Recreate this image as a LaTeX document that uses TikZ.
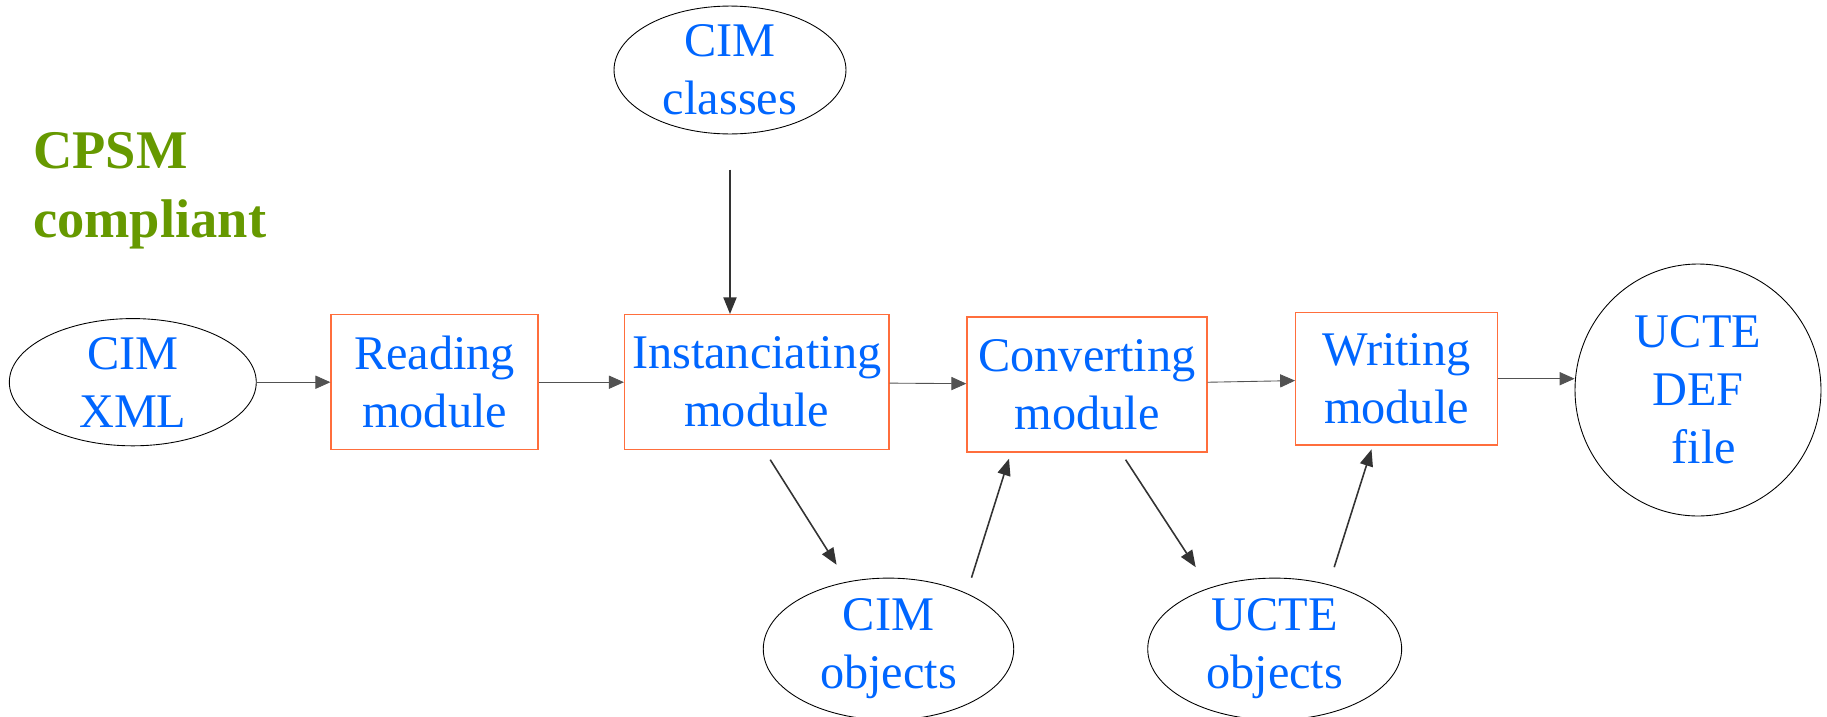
\documentclass[tikz,border=0pt]{standalone}
\usepackage{fontspec}
\setmainfont{Liberation Serif}
\usetikzlibrary{shapes.geometric,arrows.meta}
\definecolor{txtblue}{RGB}{0,102,255}
\definecolor{boxorange}{RGB}{255,110,60}
\definecolor{cpsmgreen}{RGB}{102,153,0}
\definecolor{arrgray}{RGB}{51,51,51}

\tikzstyle{eN}=[ellipse,draw=black,line width=0.5pt,inner sep = 0pt,text=txtblue,font=\fontsize{27.5}{33}\selectfont,align=center]
\tikzstyle{mN}=[rectangle,draw=boxorange,line width=0.8pt,minimum height = 2.7cm,inner sep = 0pt,text=txtblue,font=\fontsize{27.5}{33}\selectfont,align=center]
\tikzstyle{aS}=[draw=arrgray,line width=0.9pt,-{Triangle[length=9.5pt,width=7.5pt]}]
\tikzstyle{aH}=[draw=arrgray!85,line width=0.5pt,-{Triangle[length=8.5pt,width=7.5pt]}]

\begin{document}
\begin{tikzpicture}[x=0.02cm,y=-0.02cm]%[1 unit = 1 px of the reference]
                \useasboundingbox (0,0) rectangle (1827,717);
                \draw (27,191) node[anchor=west,text=cpsmgreen,font=\fontsize{31}{39}\selectfont\bfseries,align=left] (cpsm) {CPSM\\compliant};
                \draw (132.8,382.2) node[eN,minimum width=4.94cm,minimum height=2.33cm] (xml) {CIM\\XML};
                \draw (434.6,382.2) node[mN,minimum width=4.14cm] (read) {Reading\\module};
                \draw (756.8,382.2) node[mN,minimum width=5.29cm] (inst) {Instanciating\\module};
                \draw (1087,384.5) node[mN,minimum width=4.80cm] (conv) {Converting\\module};
                \draw (1396.5,378.7) node[mN,minimum width=4.03cm,minimum height=2.66cm] (writ) {Writing\\module};
                \draw (1698,390) node[eN,minimum width=4.92cm,minimum height=5.04cm] (def) {UCTE\\DEF\\\hspace*{0.25em}file};
                \draw (730,70) node[eN,minimum width=4.64cm,minimum height=2.42cm] (classes) {CIM\\classes};
                \draw (888.5,649) node[eN,minimum width=5.01cm,minimum height=2.7cm] (cimobj) {CIM\\objects};
                \draw (1274.7,649) node[eN,minimum width=5.08cm,minimum height=2.7cm] (ucteobj) {UCTE\\objects};
                \path
                    (xml) edge[aH] (read)
                    (read) edge[aH] (inst)
                    (inst) edge[aH] (conv)
                    (conv) edge[aH] (writ)
                    (writ.east) edge[aH] (writ.east -| def.west)
                ;
                \draw[aS,shorten <=20pt] (classes.south) -- (classes.south |- inst.north);
                \draw[aS] ([shift={(13.4,9.3)}]inst.south) -- ([shift={(-51.9,-12.9)}]cimobj.north);
                \draw[aS] ([shift={(83,0)}]cimobj.north) -- ([shift={(-78,6)}]conv.south);
                \draw[aS] ([shift={(38.6,7)}]conv.south) -- ([shift={(-79,-10.5)}]ucteobj.north);
                \draw[aS] ([shift={(59.5,-10.5)}]ucteobj.north) -- ([shift={(-25,3.5)}]writ.south);
        \end{tikzpicture}
\end{document}
